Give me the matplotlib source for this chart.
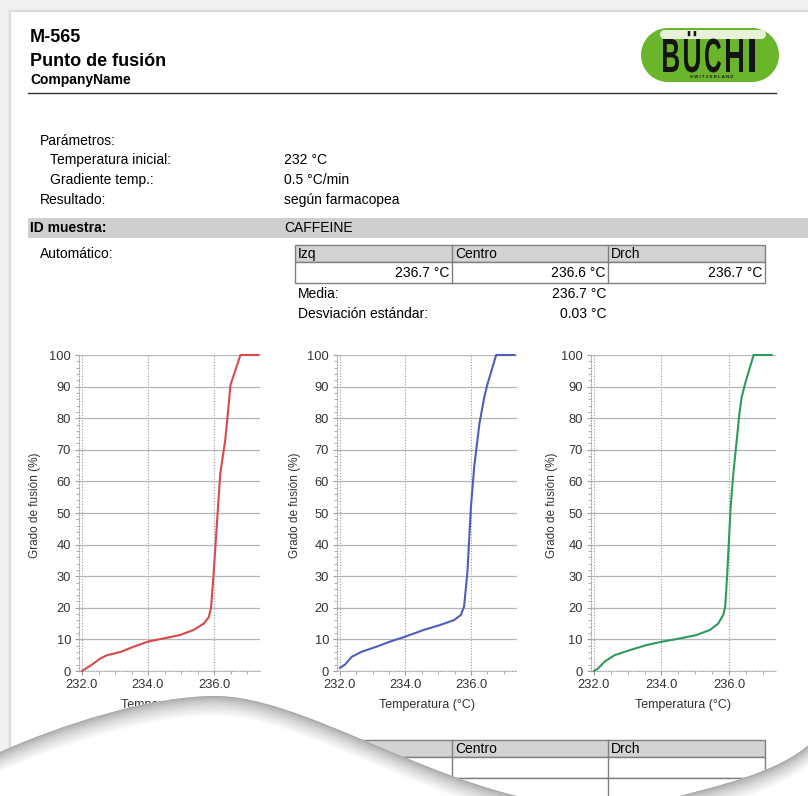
"""Informe M-565 (punto de fusión) con tres curvas de fusión."""

import matplotlib
import numpy as np

matplotlib.use("Agg")
import matplotlib.pyplot as plt
from matplotlib.font_manager import FontProperties
from matplotlib.patches import PathPatch, Polygon, Rectangle
from matplotlib.path import Path
from matplotlib.textpath import TextPath
from matplotlib.ticker import FormatStrFormatter, MultipleLocator
from matplotlib.transforms import Affine2D

plt.rcParams["font.family"] = ["Liberation Sans", "DejaVu Sans"]

W, H = 808, 796

# ---- datos -------------------------------------------------------------
parametros = [("Temperatura inicial:", "232 °C"), ("Gradiente temp.:", "0.5 °C/min")]
resultado = "según farmacopea"
muestra = "CAFFEINE"
posiciones = ["Izq", "Centro", "Drch"]
puntos_fusion = ["236.7 °C", "236.6 °C", "236.7 °C"]
media = "236.7 °C"
desviacion = "0.03 °C"

temp_izq = [232.0, 232.15, 232.3, 232.56, 232.76, 233.16, 233.57, 234.0, 234.47,
            234.98, 235.38, 235.69, 235.84, 235.91, 235.99, 236.09, 236.19, 236.34,
            236.46, 236.5, 236.8, 237.35]
grado_izq = [0, 1, 2, 4, 5, 6, 7.7, 9.3, 10.3, 11.4, 13, 15, 17, 20, 31, 47, 62.5,
             73, 86, 90.5, 100, 100]

temp_centro = [232.0, 232.15, 232.36, 232.66, 233.12, 233.53, 234.0, 234.56, 235.07,
               235.48, 235.69, 235.79, 235.89, 236.0, 236.1, 236.26, 236.41, 236.51,
               236.77, 237.33]
grado_centro = [1, 2, 4.5, 6.1, 7.7, 9.3, 10.9, 13, 14.6, 16.1, 17.7, 20.4, 31, 52,
                64.7, 78.4, 86.8, 91, 100, 100]

temp_drch = [232.0, 232.12, 232.32, 232.61, 233.06, 233.55, 234.03, 234.55, 235.04,
             235.44, 235.68, 235.83, 235.89, 235.95, 236.05, 236.13, 236.23, 236.31,
             236.38, 236.48, 236.73, 237.27]
grado_drch = [0, 0.8, 3, 5, 6.6, 8.2, 9.3, 10.3, 11.4, 13, 15, 17.7, 20.4, 31, 52,
              62.5, 73, 81.5, 86.8, 91, 100, 100]

curvas = [
    (temp_izq, grado_izq, "#d9484a", 78.7, 181.5, 35),
    (temp_centro, grado_centro, "#4f5dbb", 336.7, 180.1, 295),
    (temp_drch, grado_drch, "#2f9a5e", 590.6, 185.6, 552),
]
XLIM = (231.9, 237.4)
PLOT_TOP, PLOT_BOT = 355, 671


def pastilla(x0, x1, yc, r):
    """Contorno redondeado del logo (dos semicírculos)."""
    a = np.linspace(-np.pi / 2, np.pi / 2, 40)
    der = np.column_stack([x1 - r + r * np.cos(a), yc + r * np.sin(a)])
    izq = np.column_stack([x0 + r - r * np.cos(a), yc - r * np.sin(a)])
    return np.vstack([der, izq])


def main():
    fig = plt.figure(figsize=(W / 100, H / 100), dpi=100, facecolor="#f0f0f0")

    page = fig.add_axes([0, 0, 1, 1], zorder=0)
    page.set_xlim(0, W)
    page.set_ylim(H, 0)
    page.axis("off")

    # hoja con sombra suave
    for off, c in [(3, "#e9e9e9"), (2, "#e0e0e0"), (1, "#d6d6d6")]:
        page.add_patch(Rectangle((11 - off, 12 - off), W, H, color=c, lw=0))
    page.add_patch(Rectangle((11, 12), W, H, color="white", lw=0))

    # cabecera
    page.text(30, 38, "M-565", fontsize=13, fontweight="bold", va="center")
    page.text(30, 61, "Punto de fusión", fontsize=13, fontweight="bold", va="center")
    page.text(30, 80, "CompanyName", fontsize=10, fontweight="bold", va="center")
    page.plot([28, 776], [93, 93], color="#333333", lw=1)

    # logo: letras estrechas, una a una
    page.add_patch(Polygon(pastilla(641, 779, 55, 27), closed=True, fc="#6bb52c", ec="none"))
    page.add_patch(Polygon(pastilla(660, 766, 34.5, 4.5), closed=True, fc="#e6f3d8", ec="none"))
    fp = FontProperties(family="Liberation Sans", weight="bold")
    ref = TextPath((0, 0), "B", size=10, prop=fp).get_extents()
    letras = [("B", 663, 16), ("Ü", 684, 16), ("C", 705, 16), ("H", 726, 17), ("I", 749, 6)]
    for letra, x_izq, ancho in letras:
        tp = TextPath((0, 0), letra, size=10, prop=fp)
        bb = TextPath((0, 0), letra.replace("Ü", "U"), size=10, prop=fp).get_extents()
        tr = (Affine2D().translate(-bb.x0, -ref.y0)
              .scale(ancho / bb.width, -33 / ref.height).translate(x_izq, 72))
        page.add_patch(PathPatch(tr.transform_path(tp), fc="#141414", ec="none"))
    page.text(712, 77.5, "S W I T Z E R L A N D", fontsize=3.2, fontweight="bold",
              ha="center", va="center", color="#1a1a1a")

    # parámetros
    fs = 10
    page.text(40, 141, "Parámetros:", fontsize=fs, va="center")
    for i, (lab, val) in enumerate(parametros):
        page.text(50, 160 + 20 * i, lab, fontsize=fs, va="center")
        page.text(284, 160 + 20 * i, val, fontsize=fs, va="center")
    page.text(40, 200, "Resultado:", fontsize=fs, va="center")
    page.text(284, 200, resultado, fontsize=fs, va="center")

    page.add_patch(Rectangle((28, 218), W - 28, 20, color="#cfcfcf", lw=0))
    page.text(30, 228, "ID muestra:", fontsize=fs, fontweight="bold", va="center")
    page.text(284, 228, muestra, fontsize=fs, va="center")

    page.text(40, 254, "Automático:", fontsize=fs, va="center")
    cols = [295, 452, 608, 765]

    def tabla(y0, valores, nfilas):
        page.add_patch(Rectangle((cols[0], y0), cols[-1] - cols[0], 17, fc="#d3d3d3",
                                 ec="#7f7f7f", lw=1))
        for j, p in enumerate(posiciones):
            page.text(cols[j] + 3, y0 + 9, p, fontsize=fs, va="center")
        for r in range(nfilas):
            ya = y0 + 17 + 21 * r
            page.add_patch(Rectangle((cols[0], ya), cols[-1] - cols[0], 21, fc="white",
                                     ec="#7f7f7f", lw=1))
            for c in cols[1:-1]:
                page.plot([c, c], [ya, ya + 21], color="#7f7f7f", lw=1)
            if valores:
                for j, v in enumerate(valores):
                    page.text(cols[j + 1] - 3, ya + 11, v, fontsize=fs, va="center", ha="right")
        for c in cols[1:-1]:
            page.plot([c, c], [y0, y0 + 17], color="#7f7f7f", lw=1)

    tabla(245, puntos_fusion, 1)
    page.text(298, 294, "Media:", fontsize=fs, va="center")
    page.text(606, 294, media, fontsize=fs, va="center", ha="right")
    page.text(298, 314, "Desviación estándar:", fontsize=fs, va="center")
    page.text(606, 314, desviacion, fontsize=fs, va="center", ha="right")
    tabla(740, None, 3)

    # curvas de fusión
    for t, g, color, x0, wpx, ylab_x in curvas:
        ax = fig.add_axes([x0 / W, 1 - PLOT_BOT / H, wpx / W, (PLOT_BOT - PLOT_TOP) / H], zorder=1)
        ax.set_facecolor("none")
        ax.set_xlim(*XLIM)
        ax.set_ylim(0, 100)
        ax.plot(t, g, color=color, lw=1.5, clip_on=False, zorder=3, solid_joinstyle="round")
        ax.set_xticks([232, 234, 236])
        ax.xaxis.set_major_formatter(FormatStrFormatter("%.1f"))
        ax.xaxis.set_minor_locator(MultipleLocator(0.5))
        ax.set_yticks(range(0, 101, 10))
        ax.yaxis.set_minor_locator(MultipleLocator(2))
        ax.tick_params(which="both", color="#a0a0a0", labelsize=9.3, labelcolor="#333333")
        ax.tick_params(which="major", length=3, pad=2.5)
        ax.tick_params(which="minor", length=2)
        ax.yaxis.grid(True, color="#b5b5b5", lw=0.9)
        ax.xaxis.grid(True, color="#9a9a9a", lw=0.8, ls=(0, (1, 1.5)))
        ax.set_axisbelow(True)
        for s in ["top", "right"]:
            ax.spines[s].set_visible(False)
        for s in ["left", "bottom"]:
            ax.spines[s].set_color("#aaaaaa")
            ax.spines[s].set_linestyle((0, (1, 1.5)))
            ax.spines[s].set_linewidth(0.8)
        ax.set_ylabel("Grado de fusión (%)", fontsize=8.5, color="#333333")
        ax.yaxis.label.set_va("center")
        ax.yaxis.set_label_coords((ylab_x - x0) / wpx, (PLOT_BOT - 505) / (PLOT_BOT - PLOT_TOP))
        ax.set_xlabel("Temperatura (°C)", fontsize=9, color="#333333")
        ax.xaxis.label.set_va("center")
        ax.xaxis.set_label_coords(0.5, -(705 - PLOT_BOT) / (PLOT_BOT - PLOT_TOP))

    # esquina doblada de la hoja
    over = fig.add_axes([0, 0, 1, 1], zorder=5)
    over.set_xlim(0, W)
    over.set_ylim(H, 0)
    over.axis("off")
    bordes = [
        [(0, 752), (60, 725), (150, 696), (215, 696), (300, 696), (420, 780), (545, 802)],
        [(655, 802), (720, 786), (780, 772), (812, 742)],
    ]
    cierres = [[(545, 810), (0, 810)], [(812, 810)]]
    for borde, cierre in zip(bordes, cierres):
        codes = [Path.MOVETO] + [Path.CURVE4] * (len(borde) - 1)
        forma = Path(borde + cierre + [borde[0]],
                     codes + [Path.LINETO] * len(cierre) + [Path.CLOSEPOLY])
        patch = PathPatch(forma, fc="white", ec="none")
        over.add_patch(patch)
        n = 20
        for k in range(n, -1, -1):
            gris = 0.66 + 0.34 * (k / n) ** 0.7
            desp = Path([(x, y + k) for x, y in borde], codes)
            lin = PathPatch(desp, fill=False, ec=(gris, gris, gris), lw=1.4)
            over.add_patch(lin)
            lin.set_clip_path(patch)

    fig.savefig("out.png", dpi=100, facecolor=fig.get_facecolor())


if __name__ == "__main__":
    main()
